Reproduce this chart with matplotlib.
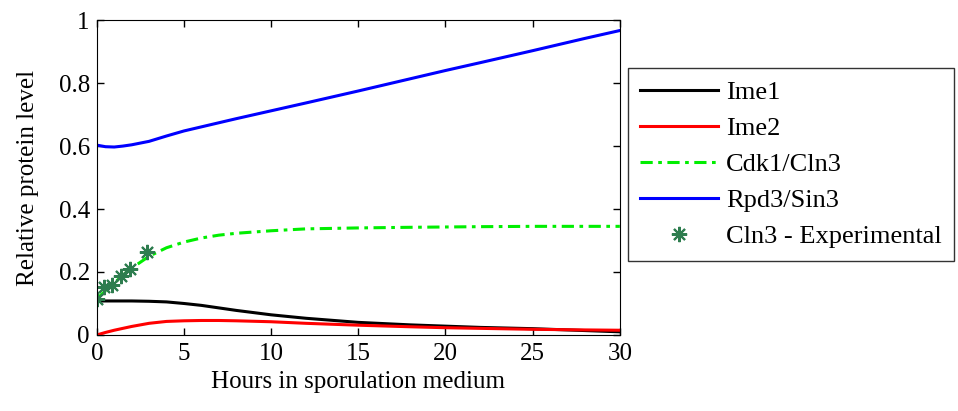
import matplotlib
matplotlib.use("Agg")
import matplotlib.pyplot as plt
import numpy as np

plt.rcParams['font.family'] = ['Liberation Serif', 'DejaVu Serif']

t = [0, 0.5, 1, 1.5, 2, 3, 4, 5, 6, 7, 8, 10, 12, 15, 18, 20, 22, 25, 28, 30]
ime1 = [0.108, 0.108, 0.108, 0.108, 0.108, 0.107, 0.105, 0.100, 0.094, 0.086, 0.078, 0.064, 0.053, 0.040, 0.032, 0.028, 0.024, 0.020, 0.014, 0.010]
ime2 = [0.0, 0.008, 0.015, 0.021, 0.027, 0.037, 0.043, 0.045, 0.046, 0.046, 0.045, 0.042, 0.037, 0.031, 0.026, 0.023, 0.021, 0.018, 0.016, 0.015]
cdk1 = [0.115, 0.14, 0.165, 0.19, 0.212, 0.25, 0.277, 0.295, 0.308, 0.317, 0.323, 0.331, 0.337, 0.340, 0.342, 0.343, 0.344, 0.345, 0.345, 0.345]
rpd3 = [0.603, 0.598, 0.597, 0.600, 0.604, 0.615, 0.632, 0.648, 0.661, 0.674, 0.687, 0.712, 0.737, 0.775, 0.814, 0.840, 0.865, 0.903, 0.942, 0.967]
exp_t = [0, 0.4, 0.9, 1.4, 1.9, 2.9]
exp_v = [0.115, 0.152, 0.16, 0.188, 0.21, 0.264]

fig = plt.figure(figsize=(9.58, 4.11), dpi=100)
ax = fig.add_axes([0.101, 0.185, 0.546, 0.766])

ax.plot(t, ime1, color='black', lw=2.2, label='Ime1')
ax.plot(t, ime2, color='red', lw=2.2, label='Ime2')
ax.plot(t, cdk1, color='#00ee00', lw=2.2, ls=(0, (4, 1.8, 1.2, 1.8)), label='Cdk1/Cln3')
ax.plot(t, rpd3, color='blue', lw=2.2, label='Rpd3/Sin3')
ax.plot(exp_t, exp_v, ls='none', marker=(8, 2, 0), ms=11, mew=1.5, color='#2e7d4f', label='Cln3 - Experimental')

ax.set_xlim(0, 30)
ax.set_ylim(0, 1)
ax.set_xticks([0, 5, 10, 15, 20, 25, 30])
ax.set_yticks([0, 0.2, 0.4, 0.6, 0.8, 1])
ax.set_yticklabels(['0', '0.2', '0.4', '0.6', '0.8', '1'])
ax.tick_params(direction='in', labelsize=18, length=5, top=True, right=True, width=1)
ax.tick_params(axis='x', pad=6)
ax.tick_params(axis='y', pad=5)
ax.set_xlabel('Hours in sporulation medium', fontsize=18, labelpad=4)
ax.set_ylabel('Relative protein level', fontsize=18, labelpad=14)

leg = fig.legend(loc='upper left', bbox_to_anchor=(628/958, 1 - 68/411), fontsize=19,
                 frameon=True, fancybox=False, edgecolor='black', handlelength=2.95,
                 handletextpad=0.3, borderpad=0.47, labelspacing=0.48, borderaxespad=0)
leg.get_frame().set_linewidth(1.0)

fig.savefig('out.png', dpi=100)
